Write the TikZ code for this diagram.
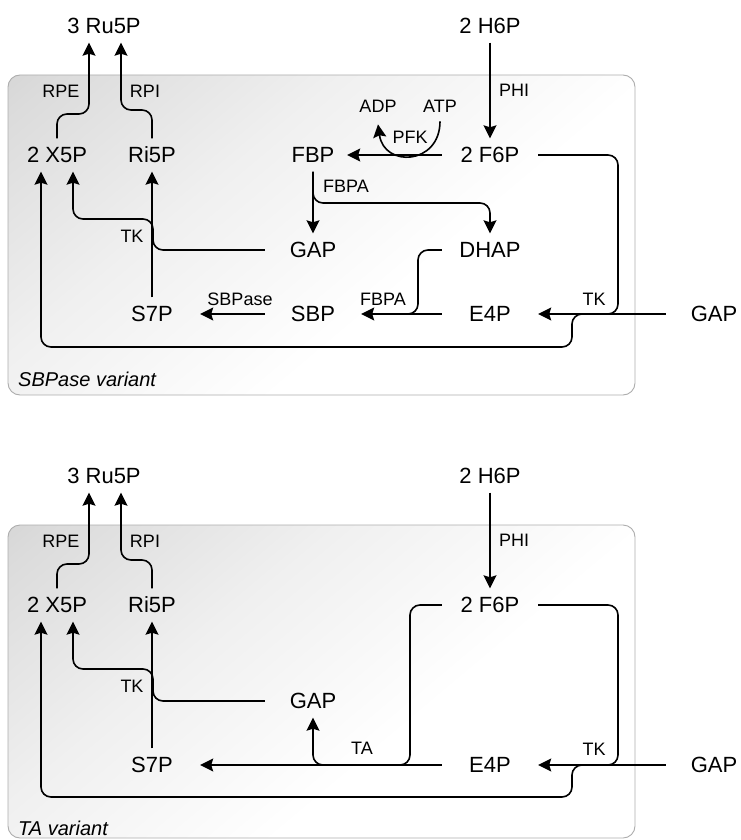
\documentclass[tikz,border=0pt]{standalone}
\usepackage{fontspec}
\setmainfont{Liberation Sans}
\usetikzlibrary{arrows.meta}
\pgfdeclareverticalshading{panelshade}{100bp}{color(0bp)=(white); color(40bp)=(white); color(62bp)=(black!6); color(82bp)=(black!14); color(100bp)=(black!24)}
\begin{document}
\begin{tikzpicture}[x=1pt,y=-1pt,
  met/.style={font=\fontsize{22}{26}\selectfont, inner sep=0pt, minimum width=96pt, minimum height=33pt},
  lab/.style={font=\fontsize{18}{21}\selectfont, inner sep=0pt},
  varlab/.style={font=\fontsize{20}{24}\selectfont\itshape, inner sep=0pt, anchor=west},
  conn/.style={line width=1.6pt, rounded corners=10pt},
  arr/.style={conn, -{Stealth[length=13pt,width=13pt,inset=2pt]}},
  panel/.style={draw=black!32, line width=0.9pt, rounded corners=12pt, shading=panelshade, shading angle=40}
]
\useasboundingbox (0,0) rectangle (740,840);

% ================= SBPase variant =================
\path[panel] (8,75) rectangle (635,395);
\node[varlab] (avar) at (18,379) {SBPase variant};

\node[met] (aru5p) at (104,26) {3 Ru5P};
\node[met] (ah6p) at (490,26) {2 H6P};
\node[met] (ax5p) at (57,155) {2 X5P};
\node[met] (ari5p) at (152,155) {Ri5P};
\node[met, minimum width=68pt] (afbp) at (313,155) {FBP};
\node[met] (af6p) at (490,155) {2 F6P};
\node[met] (agapm) at (313,250) {GAP};
\node[met] (adhap) at (490,250) {DHAP};
\node[met] (as7p) at (152,314) {S7P};
\node[met] (asbp) at (313,314) {SBP};
\node[met] (ae4p) at (490,314) {E4P};
\node[met] (agapr) at (714,314) {GAP};

\node[lab] (aphi) at (514,90) {PHI};
\node[lab] (arpe) at (61,91) {RPE};
\node[lab] (arpi) at (145,91) {RPI};
\node[lab] (aadp) at (378,106) {ADP};
\node[lab] (aatp) at (440,106) {ATP};
\node[lab] (apfk) at (410,137) {PFK};
\node[lab] (afbpa1) at (346,186) {FBPA};
\node[lab] (atk1) at (132,236) {TK};
\node[lab] (asbpase) at (240,299) {SBPase};
\node[lab] (afbpa2) at (383,299) {FBPA};
\node[lab] (atk2) at (594,299) {TK};

\coordinate (aj1) at (602,314);

\draw[arr] (ah6p.south) -- (af6p.north);
\draw[arr] (ax5p.north) -- (57,114) -- (89,114) -- ([xshift=-15pt]aru5p.south);
\draw[arr] (ari5p.north) -- (152,110) -- (121,110) -- ([xshift=17pt]aru5p.south);
\draw[arr] (af6p.west) -- (afbp.east);
\draw[arr] ([yshift=-9pt]aatp.south) .. controls (440,165) and (384,168) .. ([yshift=-12pt]aadp.south);
\draw[arr] (afbp.south) -- (agapm.north);
\draw[arr] (afbp.south) -- (313,203) -- (490,203) -- (adhap.north);
\draw[conn] (adhap.west) -| (418,314) -- (395,314);
\draw[arr] (ae4p.west) -- (asbp.east);
\draw[arr] (asbp.west) -- (as7p.east);
\draw[arr] (agapm.west) -| (153,219) -| ([xshift=16pt]ax5p.south);
\draw[arr] (as7p.north) -- (ari5p.south);
\draw[arr] (agapr.west) -- (ae4p.east);
\draw[conn] (af6p.east) -| (618,314) -- (595,314);
\draw[arr] (aj1) -- (572,314) -- (572,347) -| ([xshift=-16pt]ax5p.south);

% ================= TA variant =================
\begin{scope}[shift={(0,450)}]
\path[panel] (8,75) rectangle (635,388);
\node[varlab] (bvar) at (18,378) {TA variant};

\node[met] (bru5p) at (104,26) {3 Ru5P};
\node[met] (bh6p) at (490,26) {2 H6P};
\node[met] (bx5p) at (57,155) {2 X5P};
\node[met] (bri5p) at (152,155) {Ri5P};
\node[met] (bf6p) at (490,155) {2 F6P};
\node[met] (bgapm) at (313,251) {GAP};
\node[met] (bs7p) at (152,315) {S7P};
\node[met] (be4p) at (490,315) {E4P};
\node[met] (bgapr) at (714,315) {GAP};

\node[lab] (bphi) at (514,90) {PHI};
\node[lab] (brpe) at (61,91) {RPE};
\node[lab] (brpi) at (145,91) {RPI};
\node[lab] (btk1) at (132,236) {TK};
\node[lab] (bta) at (362,298) {TA};
\node[lab] (btk2) at (594,299) {TK};

\coordinate (bj1) at (602,315);
\coordinate (bj2) at (338,315);

\draw[arr] (bh6p.south) -- (bf6p.north);
\draw[arr] (bx5p.north) -- (57,114) -- (89,114) -- ([xshift=-15pt]bru5p.south);
\draw[arr] (bri5p.north) -- (152,110) -- (121,110) -- ([xshift=17pt]bru5p.south);
\draw[arr] (be4p.west) -- (bs7p.east);
\draw[arr] (bj2) -| (bgapm.south);
\draw[conn] (bf6p.west) -| (410,315) -- (395,315);
\draw[arr] (bgapm.west) -| (153,219) -| ([xshift=16pt]bx5p.south);
\draw[arr] (bs7p.north) -- (bri5p.south);
\draw[arr] (bgapr.west) -- (be4p.east);
\draw[conn] (bf6p.east) -| (618,315) -- (595,315);
\draw[arr] (bj1) -- (572,315) -- (572,347) -| ([xshift=-16pt]bx5p.south);
\end{scope}
\end{tikzpicture}
\end{document}
